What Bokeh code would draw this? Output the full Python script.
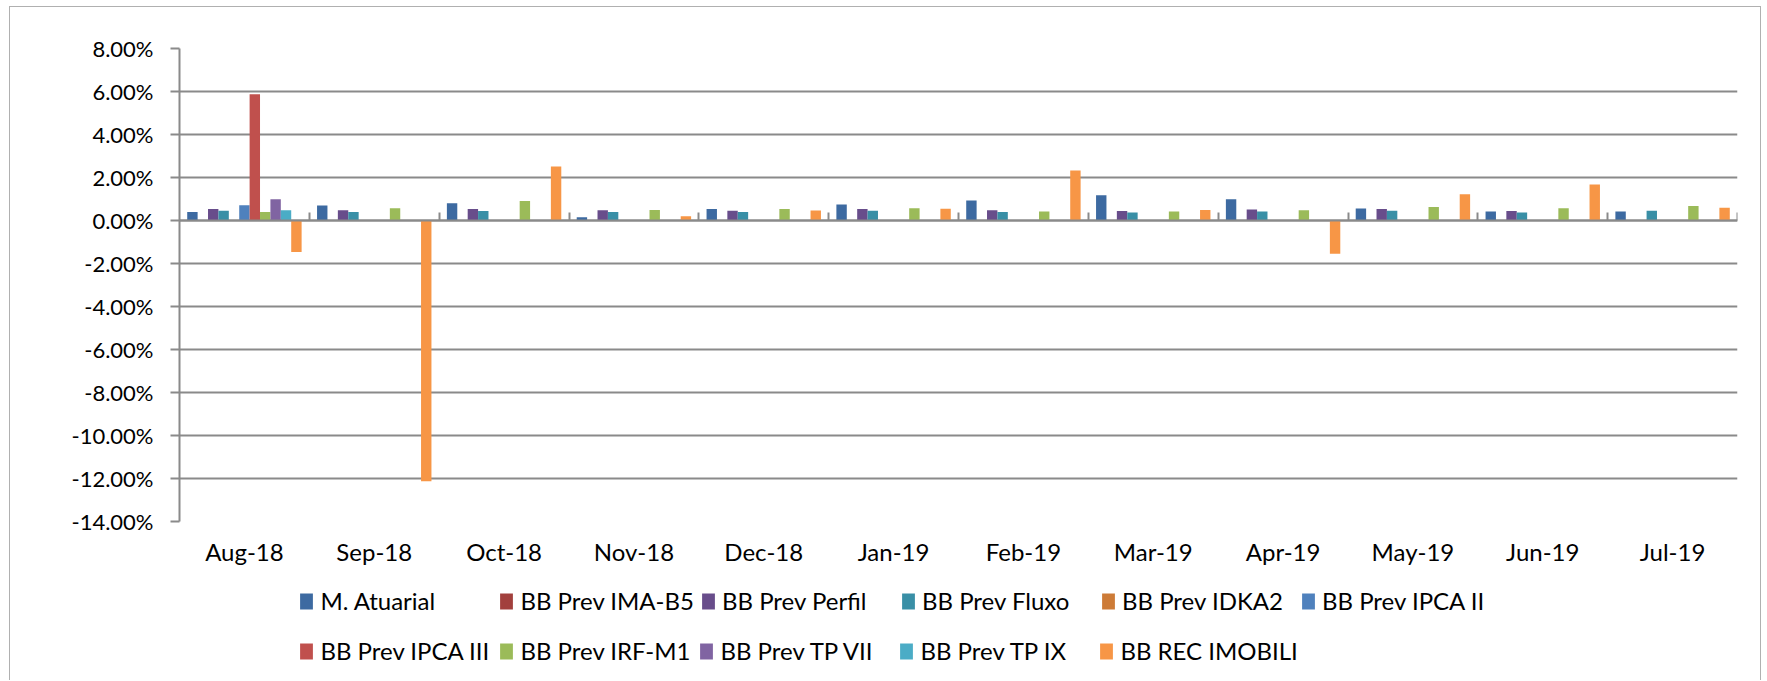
from bokeh.plotting import figure
from bokeh.layouts import column
from bokeh.models import (ColumnDataSource, FactorRange, Range1d, FixedTicker, PrintfTickFormatter,
                          LinearAxis, Legend, LegendItem)
from bokeh.transform import dodge
from bokeh.embed import file_html
from bokeh.resources import INLINE

nan = float("nan")

months = ["Aug-18", "Sep-18", "Oct-18", "Nov-18", "Dec-18", "Jan-19",
          "Feb-19", "Mar-19", "Apr-19", "May-19", "Jun-19", "Jul-19"]

m_atuarial = [0.39, 0.70, 0.80, 0.15, 0.53, 0.74, 0.93, 1.18, 0.99, 0.56, 0.42, 0.42]
ima_b5 = [nan] * 12
perfil = [0.53, 0.48, 0.53, 0.48, 0.45, 0.53, 0.48, 0.44, 0.51, 0.53, 0.44, nan]
fluxo = [0.45, 0.39, 0.44, 0.39, 0.39, 0.45, 0.39, 0.37, 0.42, 0.45, 0.37, 0.45]
idka2 = [nan] * 12
ipca_ii = [0.71] + [nan] * 11
ipca_iii = [5.87] + [nan] * 11
irf_m1 = [0.39, 0.57, 0.91, 0.49, 0.53, 0.57, 0.42, 0.42, 0.48, 0.63, 0.57, 0.68]
tp_vii = [0.99] + [nan] * 11
tp_ix = [0.48] + [nan] * 11
rec_imobili = [-1.47, -12.13, 2.51, 0.20, 0.47, 0.55, 2.33, 0.49, -1.55, 1.22, 1.67, 0.59]

series_names = ["M. Atuarial", "BB Prev IMA-B5", "BB Prev Perfil", "BB Prev Fluxo",
                "BB Prev IDKA2", "BB Prev IPCA II", "BB Prev IPCA III", "BB Prev IRF-M1",
                "BB Prev TP VII", "BB Prev TP IX", "BB REC IMOBILI"]
series_values = [m_atuarial, ima_b5, perfil, fluxo, idka2, ipca_ii, ipca_iii, irf_m1,
                 tp_vii, tp_ix, rec_imobili]
colors = ["#3D6AA1", "#A2403D", "#684D8B", "#398FA6", "#CD7B37", "#4F81BD",
          "#C0504D", "#9BBB59", "#8064A2", "#4BACC6", "#F79646"]

y_ticks = [-14, -12, -10, -8, -6, -4, -2, 0, 2, 4, 6, 8]

FONT = "Lato"
GRID = "#8a8a8a"
W = 1750
H_MAIN = 570
H_LEG = 103

data = {"month": months}
for i, v in enumerate(series_values):
    data[f"s{i}"] = v
source = ColumnDataSource(data)

p = figure(width=W, height=H_MAIN, output_backend="svg", toolbar_location=None,
           x_range=FactorRange(*months, range_padding=0, factor_padding=0),
           y_range=Range1d(-14, 8),
           min_border_left=169, min_border_right=23, min_border_top=41, min_border_bottom=56)
p.outline_line_color = None
p.background_fill_color = "white"
p.border_fill_color = "white"

bar_w = 0.0801
for i, name in enumerate(series_names):
    off = (i - 5) * bar_w
    p.vbar(x=dodge("month", off, range=p.x_range), top=f"s{i}", bottom=0,
           width=bar_w, source=source, fill_color=colors[i], line_color=None)

# grid
p.xgrid.visible = False
p.ygrid.ticker = FixedTicker(ticks=y_ticks)
p.ygrid.grid_line_color = GRID
p.ygrid.grid_line_width = 2

# y axis
p.yaxis.ticker = FixedTicker(ticks=y_ticks)
p.yaxis.formatter = PrintfTickFormatter(format="%.2f%%")
p.yaxis.axis_line_color = GRID
p.yaxis.axis_line_width = 2
p.yaxis.major_tick_line_color = GRID
p.yaxis.major_tick_line_width = 2
p.yaxis.major_tick_out = 9
p.yaxis.major_tick_in = 0
p.yaxis.minor_tick_line_color = None
p.yaxis.major_label_standoff = 17
p.yaxis.major_label_text_font = FONT
p.yaxis.major_label_text_font_size = "22px"
p.yaxis.major_label_text_color = "black"

# x axis (labels)
p.xaxis.axis_line_color = None
p.xaxis.major_tick_line_color = None
p.xaxis.major_tick_out = 0
p.xaxis.major_tick_in = 0
p.xaxis.major_label_standoff = 15
p.xaxis.major_label_text_font = FONT
p.xaxis.major_label_text_font_size = "24px"
p.xaxis.major_label_text_color = "black"

# zero-line axis with category separators (ticks pointing up)
zero_axis = LinearAxis(fixed_location=0, ticker=FixedTicker(ticks=list(range(1, 13))),
                       axis_line_color=GRID, axis_line_width=2,
                       major_tick_line_color=GRID, major_tick_line_width=2,
                       major_tick_in=0, major_tick_out=8,
                       minor_tick_line_color=None,
                       major_label_text_alpha=0, major_label_text_font_size="1px")
p.add_layout(zero_axis, "above")

# legend figure below the chart (its frame is aligned with the chart's frame)
lp = figure(width=W, height=H_LEG, output_backend="svg", toolbar_location=None,
            x_range=Range1d(0, 1), y_range=Range1d(0, 1),
            min_border_left=0, min_border_right=0, min_border_top=0, min_border_bottom=0)
lp.axis.visible = False
lp.grid.visible = False
lp.outline_line_color = None
lp.background_fill_color = "white"
lp.border_fill_color = "white"

# invisible legend carriers (zero-height bars outside the legend canvas' range)
swatches = []
for i, name in enumerate(series_names):
    r = lp.vbar(x=[-5], top=[-5], bottom=[-5], width=0.1, fill_color=colors[i], line_color=None)
    swatches.append(r)

rows = [(list(range(0, 6)), 65), (list(range(6, 11)), 15)]
for row, vy in rows:
    items = [LegendItem(label=series_names[k], renderers=[swatches[k]]) for k in row]
    lg = Legend(items=items, location=(119.4, vy), orientation="horizontal",
                glyph_width=16, glyph_height=20, label_standoff=6, label_width=172,
                label_height=20, spacing=6, padding=0, margin=0,
                label_text_font=FONT, label_text_font_size="24px", label_text_color="black",
                border_line_alpha=0, background_fill_alpha=0)
    lp.add_layout(lg, "center")

layout = column(p, lp, spacing=0,
                styles={"margin-left": "9px", "margin-top": "6px",
                        "border-left": "1px solid #b0b0b0", "border-top": "1px solid #b0b0b0",
                        "border-right": "1px solid #b0b0b0"})

open("out.html", "w").write(file_html(layout, INLINE))
